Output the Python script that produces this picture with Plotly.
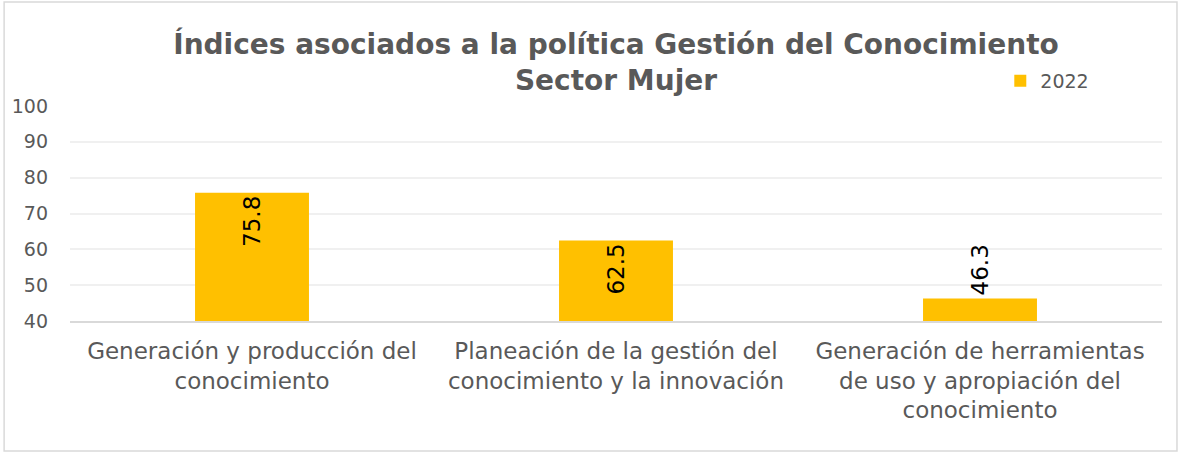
import plotly.graph_objects as go

categories = [
    "Generación y producción del<br>conocimiento",
    "Planeación de la gestión del<br>conocimiento y la innovación",
    "Generación de herramientas<br>de uso y apropiación del<br>conocimiento",
]
values_2022 = [75.8, 62.5, 46.3]
series_name = "2022"
title_lines = ["Índices asociados a la política Gestión del Conocimiento", "Sector Mujer"]

FONT = "DejaVu Sans"
GRAY = "#595959"

fig = go.Figure()
fig.add_trace(go.Bar(
    x=categories, y=values_2022, name=series_name,
    marker=dict(color="#FFC000", line=dict(width=0)),
    text=[f"{v:.1f}" for v in values_2022],
    textposition=["inside", "inside", "outside"], textangle=-90, insidetextanchor="end",
    constraintext="none",
    textfont=dict(family=FONT, size=23, color="black"),
    insidetextfont=dict(family=FONT, size=23, color="black"),
    outsidetextfont=dict(family=FONT, size=23, color="black"),
    cliponaxis=False,
))

L, R, T, B = 68, 18, 106, 132
W, H = 1180, 453
pw, ph = W - L - R, H - T - B

fig.update_layout(
    width=W, height=H,
    margin=dict(l=L, r=R, t=T, b=B),
    paper_bgcolor="white", plot_bgcolor="white",
    bargap=0.687,
    title=dict(text="<b>" + "<br>".join(title_lines) + "</b>",
               x=0.5, xref="paper", xanchor="center",
               y=1 - 54 / H, yanchor="top", yref="container",
               font=dict(family=FONT, size=28, color=GRAY)),
    showlegend=True,
    legend=dict(x=(1000 - L) / pw, y=(321 - 62) / ph, xanchor="left", yanchor="top",
                font=dict(family=FONT, size=19, color=GRAY),
                bgcolor="rgba(0,0,0,0)", itemwidth=30),
    font=dict(family=FONT, color=GRAY),
)
fig.update_yaxes(range=[40, 100], dtick=10, tick0=40,
                 showgrid=True, gridcolor="#F0F0F0", gridwidth=1.5,
                 zeroline=False, showline=False, ticks="",
                 tickfont=dict(family=FONT, size=19, color=GRAY),
                 ticklabelstandoff=21)
fig.update_xaxes(showline=True, linecolor="#D9D9D9", linewidth=2,
                 ticks="", tickfont=dict(family=FONT, size=23, color=GRAY),
                 ticklabelstandoff=8)

# outer chart border
fig.add_shape(type="rect", xref="paper", yref="paper",
              x0=(2 - L) / pw, x1=(1177 - L) / pw,
              y0=(321 - 451) / ph, y1=(321 - 2) / ph,
              line=dict(color="#D9D9D9", width=1.5), fillcolor="rgba(0,0,0,0)", layer="below")

fig.write_html("out.html", config={"displayModeBar": False},
               post_script="document.body.style.margin='0';")
